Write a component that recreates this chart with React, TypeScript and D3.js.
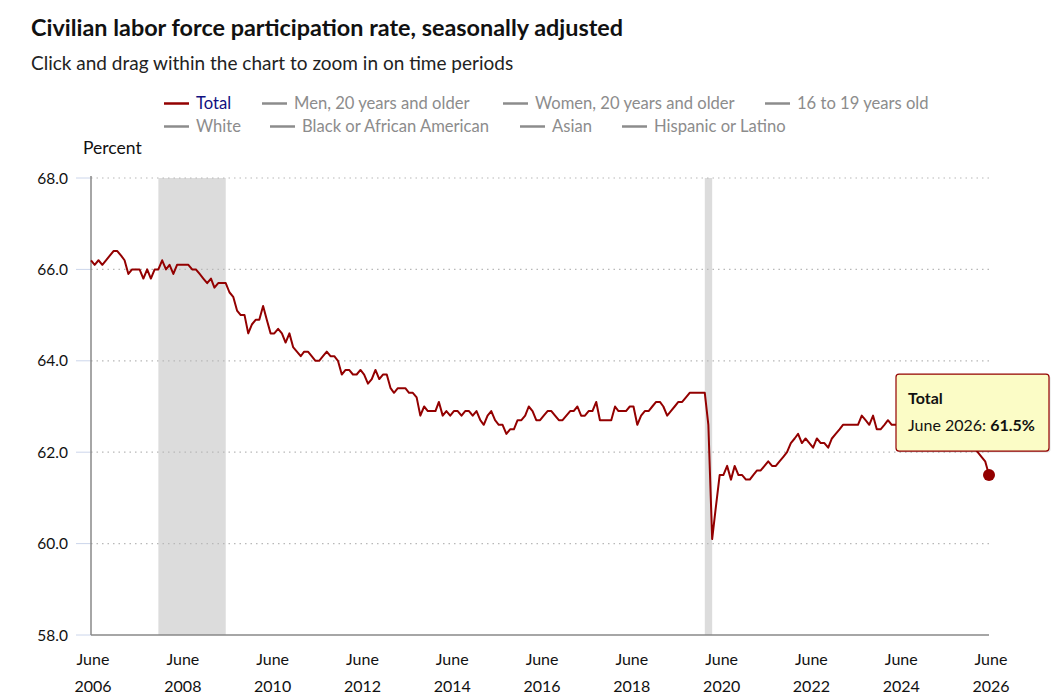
import { useEffect, useRef } from "react";
import * as d3 from "d3";

const WIDTH = 1060;
const HEIGHT = 700;
const FONT = "Lato, 'Noto Sans', sans-serif";

// monthly values, June 2006 onward
const firstMonth = new Date(2006, 5, 1);
const rate2006 = [66.2, 66.1, 66.2, 66.1, 66.2, 66.3, 66.4];
const rate2007to2009 = [
  66.4, 66.3, 66.2, 65.9, 66.0, 66.0, 66.0, 65.8, 66.0, 65.8, 66.0, 66.0,
  66.2, 66.0, 66.1, 65.9, 66.1, 66.1, 66.1, 66.1, 66.0, 66.0, 65.9, 65.8,
  65.7, 65.8, 65.6, 65.7, 65.7, 65.7, 65.5, 65.4, 65.1, 65.0, 65.0, 64.6,
];
const rate2010to2012 = [
  64.8, 64.9, 64.9, 65.2, 64.9, 64.6, 64.6, 64.7, 64.6, 64.4, 64.6, 64.3,
  64.2, 64.1, 64.2, 64.2, 64.1, 64.0, 64.0, 64.1, 64.2, 64.1, 64.1, 64.0,
  63.7, 63.8, 63.8, 63.7, 63.7, 63.8, 63.7, 63.5, 63.6, 63.8, 63.6, 63.7,
];
const rate2013to2015 = [
  63.7, 63.4, 63.3, 63.4, 63.4, 63.4, 63.3, 63.3, 63.2, 62.8, 63.0, 62.9,
  62.9, 62.9, 63.1, 62.8, 62.9, 62.8, 62.9, 62.9, 62.8, 62.9, 62.9, 62.8,
  62.9, 62.7, 62.6, 62.8, 62.9, 62.7, 62.6, 62.6, 62.4, 62.5, 62.5, 62.7,
];
const rate2016to2019 = [
  62.7, 62.8, 63.0, 62.9, 62.7, 62.7, 62.8, 62.9, 62.9, 62.8, 62.7, 62.7,
  62.8, 62.9, 62.9, 63.0, 62.8, 62.8, 62.9, 62.9, 63.1, 62.7, 62.7, 62.7,
  62.7, 63.0, 62.9, 62.9, 62.9, 63.0, 63.0, 62.6, 62.8, 62.9, 62.9, 63.0,
  63.1, 63.1, 63.0, 62.8, 62.9, 63.0, 63.1, 63.1, 63.2, 63.3, 63.3, 63.3,
];
const rate2020to2022 = [
  63.3, 63.3, 62.6, 60.1, 60.8, 61.5, 61.5, 61.7, 61.4, 61.7, 61.5, 61.5,
  61.4, 61.4, 61.5, 61.6, 61.6, 61.7, 61.8, 61.7, 61.7, 61.8, 61.9, 62.0,
  62.2, 62.3, 62.4, 62.2, 62.3, 62.2, 62.1, 62.3, 62.2, 62.2, 62.1, 62.3,
];
const rate2023to2026 = [
  62.4, 62.5, 62.6, 62.6, 62.6, 62.6, 62.6, 62.8, 62.7, 62.6, 62.8, 62.5,
  62.5, 62.6, 62.7, 62.6, 62.6, 62.6, 62.7, 62.7, 62.7, 62.6, 62.5, 62.5,
  62.6, 62.4, 62.5, 62.6, 62.4, 62.4, 62.3, 62.2, 62.3, 62.4, 62.3, 62.2,
  62.1, 62.1, 62.0, 61.9, 61.8, 61.5,
];

const recessions: [Date, Date][] = [
  [new Date(2007, 11, 1), new Date(2009, 5, 1)],
  [new Date(2020, 1, 1), new Date(2020, 3, 1)],
];

const yTicks = [58, 60, 62, 64, 66, 68];
const xTickYears = [2006, 2008, 2010, 2012, 2014, 2016, 2018, 2020, 2022, 2024, 2026];

const legendRow1 = ["Total", "Men, 20 years and older", "Women, 20 years and older", "16 to 19 years old"];
const legendRow2 = ["White", "Black or African American", "Asian", "Hispanic or Latino"];
const legendRow1X = [164, 262, 503, 765];
const legendRow2X = [164, 270, 520, 622];

const LINE_COLOR = "#930000";

export default function App() {
  const svgRef = useRef<SVGSVGElement | null>(null);

  useEffect(() => {
    const svg = d3.select(svgRef.current);
    svg.selectAll("*").remove();

    const values = [
      ...rate2006,
      ...rate2007to2009,
      ...rate2010to2012,
      ...rate2013to2015,
      ...rate2016to2019,
      ...rate2020to2022,
      ...rate2023to2026,
    ];
    const data = values.map((v, i) => ({
      date: d3.timeMonth.offset(firstMonth, i),
      value: v,
    }));

    const left = 91;
    const right = 989;
    const top = 178;
    const bottom = 635;

    const x = d3
      .scaleTime()
      .domain([firstMonth, data[data.length - 1].date])
      .range([left, right]);
    const y = d3.scaleLinear().domain([58, 68]).range([bottom, top]);

    // title
    svg
      .append("text")
      .attr("x", 31)
      .attr("y", 36)
      .style("font-family", FONT)
      .style("font-size", "23.4px")
      .style("font-weight", "700")
      .attr("fill", "#111")
      .text("Civilian labor force participation rate, seasonally adjusted");
    svg
      .append("text")
      .attr("x", 31)
      .attr("y", 70)
      .style("font-family", FONT)
      .style("font-size", "19px")
      .attr("fill", "#222")
      .text("Click and drag within the chart to zoom in on time periods");

    // legend
    const drawLegend = (names: string[], xs: number[], cy: number) => {
      names.forEach((name, i) => {
        const active = name === "Total";
        svg
          .append("line")
          .attr("x1", xs[i])
          .attr("x2", xs[i] + 25)
          .attr("y1", cy)
          .attr("y2", cy)
          .attr("stroke", active ? LINE_COLOR : "#8c8c8c")
          .attr("stroke-width", 2.5);
        svg
          .append("text")
          .attr("x", xs[i] + 32)
          .attr("y", cy + 5.5)
          .style("font-family", FONT)
          .style("font-size", "16.6px")
          .attr("fill", active ? "#101080" : "#8c8c8c")
          .text(name);
      });
    };
    drawLegend(legendRow1, legendRow1X, 103.5);
    drawLegend(legendRow2, legendRow2X, 126.5);

    svg
      .append("text")
      .attr("x", 83)
      .attr("y", 154)
      .style("font-family", FONT)
      .style("font-size", "17.5px")
      .attr("fill", "#111")
      .text("Percent");

    // recession bands
    svg
      .append("g")
      .selectAll("rect")
      .data(recessions)
      .join("rect")
      .attr("x", (d) => x(d[0]))
      .attr("width", (d) => x(d[1]) - x(d[0]))
      .attr("y", top)
      .attr("height", bottom - top)
      .attr("fill", "#dcdcdc");

    // grid
    svg
      .append("g")
      .selectAll("line")
      .data(yTicks.filter((t) => t !== 58))
      .join("line")
      .attr("x1", left)
      .attr("x2", right)
      .attr("y1", (d) => y(d))
      .attr("y2", (d) => y(d))
      .attr("stroke", "#b8b8b8")
      .attr("stroke-width", 1.2)
      .attr("stroke-dasharray", "1.5,4");

    // y axis
    const yAxis = svg.append("g");
    yAxis
      .selectAll("line")
      .data(yTicks)
      .join("line")
      .attr("x1", left - 15)
      .attr("x2", left)
      .attr("y1", (d) => y(d))
      .attr("y2", (d) => y(d))
      .attr("stroke", "#ccd6eb")
      .attr("stroke-width", 1);
    yAxis
      .selectAll("text")
      .data(yTicks)
      .join("text")
      .attr("x", left - 23)
      .attr("y", (d) => y(d) + 5.5)
      .attr("text-anchor", "end")
      .style("font-family", FONT)
      .style("font-size", "15.5px")
      .attr("fill", "#111")
      .text((d) => d3.format(".1f")(d));

    svg
      .append("line")
      .attr("x1", left)
      .attr("x2", left)
      .attr("y1", top - 2)
      .attr("y2", bottom)
      .attr("stroke", "#888")
      .attr("stroke-width", 1.5);
    svg
      .append("line")
      .attr("x1", left)
      .attr("x2", right)
      .attr("y1", bottom)
      .attr("y2", bottom)
      .attr("stroke", "#888")
      .attr("stroke-width", 1.5);

    // x labels
    const xLabels = svg
      .append("g")
      .selectAll("g")
      .data(xTickYears)
      .join("g")
      .attr("transform", (d) => `translate(${x(new Date(d, 5, 1)) + 2},0)`);
    xLabels
      .append("text")
      .attr("y", 665)
      .attr("text-anchor", "middle")
      .style("font-family", FONT)
      .style("font-size", "16px")
      .attr("fill", "#111")
      .text("June");
    xLabels
      .append("text")
      .attr("y", 692)
      .attr("text-anchor", "middle")
      .style("font-family", FONT)
      .style("font-size", "16px")
      .attr("fill", "#111")
      .text((d) => String(d));

    // series line
    const line = d3
      .line<{ date: Date; value: number }>()
      .x((d) => x(d.date))
      .y((d) => y(d.value));
    svg
      .append("path")
      .datum(data)
      .attr("d", line)
      .attr("fill", "none")
      .attr("stroke", LINE_COLOR)
      .attr("stroke-width", 2)
      .attr("stroke-linejoin", "round");

    const last = data[data.length - 1];
    const lx = x(last.date);
    const ly = y(last.value);

    // tooltip
    const tipX = lx - 93;
    const tipY = ly - 101;
    const tipW = 153;
    const tipH = 77;
    svg
      .append("rect")
      .attr("x", tipX + 1.5)
      .attr("y", tipY + 1.5)
      .attr("width", tipW)
      .attr("height", tipH)
      .attr("rx", 3)
      .attr("fill", "rgba(0,0,0,0.12)");
    svg
      .append("rect")
      .attr("x", tipX)
      .attr("y", tipY)
      .attr("width", tipW)
      .attr("height", tipH)
      .attr("rx", 3)
      .attr("fill", "#fbfcc6")
      .attr("stroke", LINE_COLOR)
      .attr("stroke-width", 1.2);
    svg
      .append("text")
      .attr("x", tipX + 12)
      .attr("y", tipY + 30)
      .style("font-family", FONT)
      .style("font-size", "16px")
      .style("font-weight", "700")
      .attr("fill", "#111")
      .text("Total");
    const t2 = svg
      .append("text")
      .attr("x", tipX + 12)
      .attr("y", tipY + 57)
      .style("font-family", FONT)
      .style("font-size", "16px")
      .attr("fill", "#111");
    t2.append("tspan").text(`${d3.timeFormat("%B %Y")(last.date)}: `);
    t2.append("tspan")
      .style("font-weight", "700")
      .text(`${d3.format(".1f")(last.value)}%`);

    svg
      .append("circle")
      .attr("cx", lx)
      .attr("cy", ly)
      .attr("r", 6)
      .attr("fill", LINE_COLOR);
  }, []);

  return (
    <svg
      ref={svgRef}
      width={WIDTH}
      height={HEIGHT}
      style={{ position: "absolute", left: 0, top: 0, background: "#fff" }}
    />
  );
}
